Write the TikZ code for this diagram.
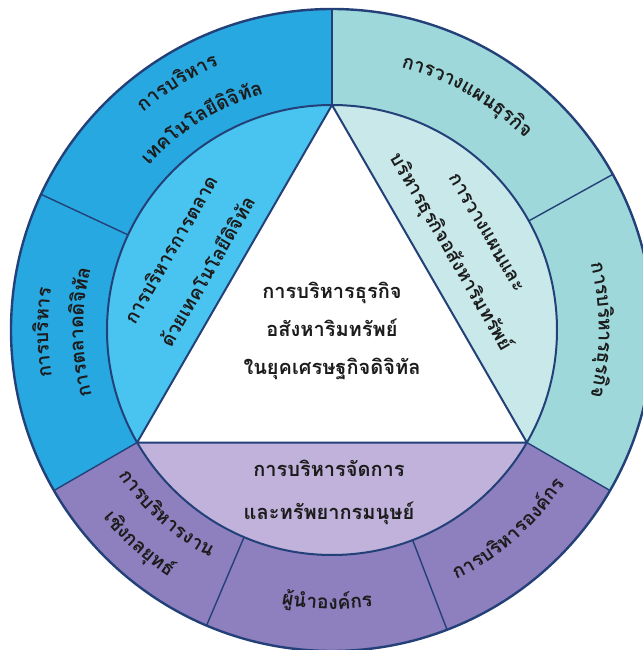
\documentclass[tikz,border=0pt]{standalone}
\usepackage{fontspec}
\newfontfamily\thaifont[Script=Thai]{Loma}

\definecolor{outblue}{HTML}{28A8E0}
\definecolor{inblue}{HTML}{49C4F0}
\definecolor{outteal}{HTML}{9ED8DA}
\definecolor{inteal}{HTML}{C8E8EA}
\definecolor{outpurple}{HTML}{8E7FBE}
\definecolor{inpurple}{HTML}{C0B2DA}
\definecolor{lineblue}{HTML}{234178}
\definecolor{txt}{HTML}{1C1C1C}

\newcommand\ringfont{\thaifont\bfseries\fontsize{19.3}{23}\selectfont}
\newcommand\labelfont{\thaifont\bfseries\fontsize{20}{24}\selectfont}
\newcommand\segfont{\thaifont\bfseries\fontsize{19}{23}\selectfont}

% Cluster lists (base letter with its marks) for the texts set along the rim
\def\Lobone{ก,า,ร,บ,ริ,ห,า,ร}
\def\Lobtwo{เ,ท,ค,โ,น,โ,ล,ยี,ดิ,จิ,ทั,ล}
\def\Lolone{ก,า,ร,บ,ริ,ห,า,ร}
\def\Loltwo{ก,า,ร,ต,ล,า,ด,ดิ,จิ,ทั,ล}
\def\Lotone{ก,า,ร,ว,า,ง,แ,ผ,น,ธุ,ร,กิ,จ}
\def\Lottwo{ก,า,ร,บ,ริ,ห,า,ร,ธุ,ร,กิ,จ}
\def\Lopone{ก,า,ร,บ,ริ,ห,า,ร,ง,า,น}
\def\Loptwo{เ,ชิ,ง,ก,ล,ยุ,ท,ธ์}
\def\Lopthree{ผู้,นำ,อ,ง,ค์,ก,ร}
\def\Lopfour{ก,า,ร,บ,ริ,ห,า,ร,อ,ง,ค์,ก,ร}

\newlength\clusterwd
% Measure every cluster of a list (done outside the picture, where fonts work)
% #1 id, #2 font, #3 list macro
\newcommand\arcprep[3]{%
  \gdef\arcsum{0}%
  \foreach \cl [count=\k] in #3{%
    \settowidth\clusterwd{#2\cl}%
    \expandafter\xdef\csname cw-#1-\k\endcsname{\the\clusterwd}%
    \pgfmathsetmacro\arcacc{\arcsum+\clusterwd}%
    \global\let\arcsum\arcacc
  }%
  \expandafter\xdef\csname ct-#1\endcsname{\arcsum}%
}
% Set the measured clusters along a circle.
% #1 id, #2 radius, #3 centre angle, #4 sense (+1 counter-clockwise, tops inward;
% -1 clockwise, tops outward), #5 font, #6 list macro
\newcommand\arctext[6]{%
  \gdef\arcrun{0}%
  \edef\arctotal{\csname ct-#1\endcsname}%
  \foreach \cl [count=\k] in #6{%
    \edef\arcwraw{\csname cw-#1-\k\endcsname}%
    \pgfmathsetmacro\arcw{\arcwraw}%
    \pgfmathsetmacro\arcang{#3+(#4)*(\arcrun+0.5*\arcw-0.5*\arctotal)/(#2)*180/pi}%
    \pgfmathsetmacro\arcrot{\arcang+(#4)*90}%
    \node[arcglyph,font=#5,rotate=\arcrot] (#1-\k) at (\arcang:#2) {\cl};
    \pgfmathsetmacro\arcacc{\arcrun+\arcw}%
    \global\let\arcrun\arcacc
  }%
}

\newcommand\sector[3]{%
  \fill[#1] (#2:225) arc[start angle=#2,end angle=#3,radius=225]
    -- (#3:321) arc[start angle=#3,end angle=#2,radius=321] -- cycle;
}

\tikzset{
  divider/.style={draw=lineblue, line width=1.4pt},
  rim/.style={draw=lineblue, line width=2.4pt},
  edge/.style={draw=lineblue, line width=2pt, line join=round},
  arcglyph/.style={inner sep=0pt, anchor=mid, text=txt},
  label/.style={font=\labelfont, text=txt, inner sep=0pt, anchor=mid},
  seglabel/.style={label, font=\segfont},
}

\begin{document}%
\arcprep{ob1}{\ringfont}{\Lobone}%
\arcprep{ob2}{\ringfont}{\Lobtwo}%
\arcprep{ol1}{\ringfont}{\Lolone}%
\arcprep{ol2}{\ringfont}{\Loltwo}%
\arcprep{ot1}{\ringfont}{\Lotone}%
\arcprep{ot2}{\ringfont}{\Lottwo}%
\arcprep{op1}{\ringfont}{\Lopone}%
\arcprep{op2}{\ringfont}{\Loptwo}%
\arcprep{op3}{\ringfont}{\Lopthree}%
\arcprep{op4}{\ringfont}{\Lopfour}%
\begin{tikzpicture}[x=1pt,y=1pt]
\useasboundingbox[fill=white] (-332,-320) rectangle (310,330);

% outer ring
\sector{outblue}{90}{155}
\sector{outblue}{155}{210}
\sector{outpurple}{210}{247}
\sector{outpurple}{247}{291}
\sector{outpurple}{291}{330}
\sector{outteal}{-30}{29}
\sector{outteal}{29}{90}

% inner segments between the circle and the triangle
\fill[inblue] (90:225) arc[start angle=90,end angle=210,radius=225] -- cycle;
\fill[inpurple] (210:225) arc[start angle=210,end angle=330,radius=225] -- cycle;
\fill[inteal] (-30:225) arc[start angle=-30,end angle=90,radius=225] -- cycle;

% dividers of the outer ring
\foreach \a in {90,155,210,247,291,330,29}
  \draw[divider] (\a:225) -- (\a:321);

% circles and triangle
\draw[divider, line width=2pt] (0,0) circle[radius=225];
\draw[rim] (0,0) circle[radius=321];
\fill[white] (90:225) -- (210:225) -- (330:225) -- cycle;
\draw[edge] (90:225) -- (210:225) -- (330:225) -- cycle;

% centre
\node[label] (c1) at (0,34) {การบริหารธุรกิจ};
\node[label] (c2) at (0,-4) {อสังหาริมทรัพย์};
\node[label] (c3) at (0,-42) {ในยุคเศรษฐกิจดิจิทัล};

% inner segments
\node[seglabel, rotate=60] (ib1) at (-157,78) {การบริหารการตลาด};
\node[seglabel, rotate=60] (ib2) at (-120,56) {ด้วยเทคโนโลยีดิจิทัล};
\node[seglabel, rotate=-60] (it1) at (152,96) {การวางแผนและ};
\node[seglabel, rotate=-60] (it2) at (116,76) {บริหารธุรกิจอสังหาริมทรัพย์};
\node[label] (ip1) at (-3,-144) {การบริหารจัดการ};
\node[label] (ip2) at (-3,-187) {และทรัพยากรมนุษย์};

% outer ring labels
\arctext{ob1}{290}{122}{-1}{\ringfont}{\Lobone}
\arctext{ob2}{248}{122}{-1}{\ringfont}{\Lobtwo}
\arctext{ol1}{286}{180.5}{-1}{\ringfont}{\Lolone}
\arctext{ol2}{251}{180.5}{-1}{\ringfont}{\Loltwo}
\arctext{ot1}{274}{60}{-1}{\ringfont}{\Lotone}
\arctext{ot2}{269}{0}{-1}{\ringfont}{\Lottwo}
\arctext{op1}{256}{228}{1}{\ringfont}{\Lopone}
\arctext{op2}{294}{228}{1}{\ringfont}{\Loptwo}
\arctext{op3}{277}{269}{1}{\ringfont}{\Lopthree}
\arctext{op4}{277}{311.5}{1}{\ringfont}{\Lopfour}
\end{tikzpicture}%
\end{document}
